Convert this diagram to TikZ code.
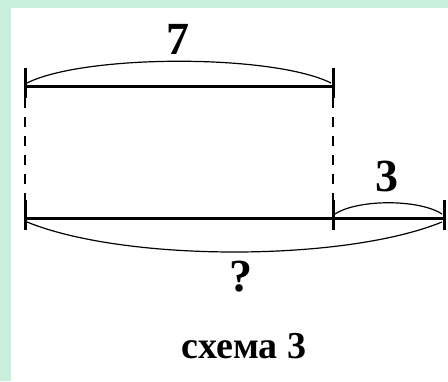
\documentclass[tikz,border=0pt]{standalone}
\usepackage{fontspec}
\setmainfont{Liberation Serif}
\usepackage{tikz}
\usetikzlibrary{calc}
\definecolor{bgclr}{RGB}{200,238,220}

\begin{document}
\begin{tikzpicture}[
    x=1pt, y=-1pt,
    seg/.style={line width=3pt},
    tickmark/.style={line width=3pt},
    bow/.style={line width=1.2pt},
    guide/.style={line width=1.4pt, dash pattern=on 10pt off 9pt},
    num/.style={font=\fontsize{46}{46}\selectfont\bfseries, inner sep=0pt},
    caption/.style={font=\fontsize{38}{38}\selectfont\bfseries, inner sep=0pt},
  ]
  \fill[bgclr] (0,0) rectangle (448,381);
  \fill[white] (11,8) rectangle (448,381);
  \useasboundingbox (0,0) rectangle (448,381);

  % segment ends
  \coordinate (a) at (25,86);
  \coordinate (b) at (333,86);
  \coordinate (c) at (25,218);
  \coordinate (d) at (333,218);
  \coordinate (e) at (444,218);

  \draw[seg] (a) -- (b);
  \draw[seg] (c) -- (e);
  \foreach \p in {a,b,c,d,e}
    \draw[tickmark] ($(\p)+(0,-18)$) -- ($(\p)+(0,12)$);

  \draw[guide] ($(a)+(0,12)$) -- ($(c)+(0,-18)$);
  \draw[guide] ($(b)+(0,12)$) -- ($(d)+(0,-18)$);

  % braces
  \draw[bow] ($(a)+(2,-3)$) .. controls ($(a)+(60,-32)$) and ($(b)+(-60,-32)$) .. ($(b)+(-2,-3)$);
  \draw[bow] ($(d)+(2,-4)$) .. controls ($(d)+(25,-19)$) and ($(e)+(-25,-19)$) .. ($(e)+(-2,-4)$);
  \draw[bow] ($(c)+(2,4)$) .. controls ($(c)+(100,44)$) and ($(e)+(-100,44)$) .. ($(e)+(-2,4)$);

  \node[num] (seven) at (178,39) {7};
  \node[num] (three) at (387,176) {3};
  \node[num] (total) at (241,277) {?};
  \node[caption] (title) at (244,346) {схема 3};
\end{tikzpicture}
\end{document}
